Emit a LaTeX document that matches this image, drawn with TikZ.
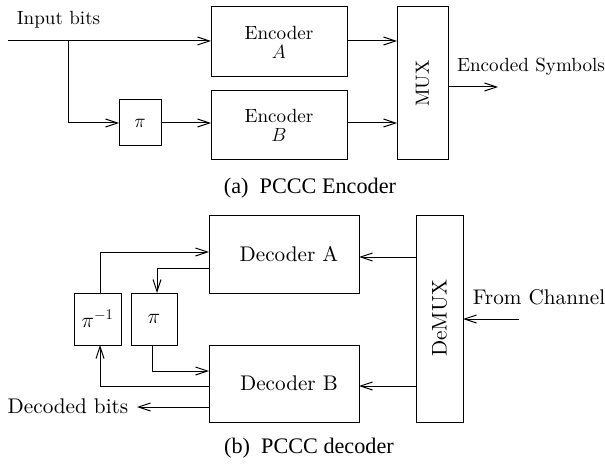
\documentclass[tikz,border=0pt]{standalone}
\usepackage{fix-cm}
\usepackage{fontspec}
\newfontfamily\capfont{Liberation Serif}
\newfontfamily\lmten{lmroman10-regular.otf}
\usetikzlibrary{arrows.meta}
\begin{document}
\begin{tikzpicture}[x=1pt,y=-1pt,
  every node/.style={font=\lmten\fontsize{19.1}{22}\selectfont},
  big/.style={font=\lmten\fontsize{21.2}{24}\selectfont},
  blk/.style={draw,line width=1pt,inner sep=0pt,outer sep=0pt,align=center},
  lbl/.style={inner sep=0pt},
  captext/.style={inner sep=0pt,font=\capfont\fontsize{22.2}{26}\selectfont},
  arr/.style={line width=1pt,-{Straight Barb[length=12pt,width=8pt,line width=1pt]}},
  ln/.style={line width=1pt}]
\useasboundingbox (0,0) rectangle (605,468);
% ---- encoder ----
\node[blk,minimum width=136pt,minimum height=70pt] (encA) at (279,42) {Encoder\\[-3pt]$A$};
\node[blk,minimum width=136pt,minimum height=69pt] (encB) at (279,125.5) {Encoder\\[-3pt]$B$};
\node[blk,minimum width=51pt,minimum height=153pt] (mux) at (422.5,83.5) {\rotatebox{90}{MUX}};
\node[blk,minimum width=42pt,minimum height=46pt] (pi) at (140,123) {$\pi$};
\node[lbl] (inlbl) at (58.5,20) {Input bits};
\node[lbl] (outlbl) at (531,67) {Encoded Symbols};
\coordinate (in) at (8,41);
\coordinate (br) at (68,41);
\coordinate (out) at (498,87);
\draw[arr] (in) -- (in -| encA.west);
\draw[arr] (br) |- (pi.west);
\draw[arr] (pi.east) -- (pi.east -| encB.west);
\draw[arr] (encA.east |- in) -- (mux.west |- in);
\draw[arr] (encB.east |- pi) -- (mux.west |- pi);
\draw[arr] (out -| mux.east) -- (out);
\node[captext] (capa) at (310,188) {(a)\enspace PCCC Encoder};
% ---- decoder ----
\node[blk,big,minimum width=150pt,minimum height=78pt] (decA) at (284,254) {\hspace{10pt}Decoder A};
\node[blk,big,minimum width=150pt,minimum height=77pt] (decB) at (284,383.5) {\hspace{10pt}Decoder B};
\node[blk,big,minimum width=47pt,minimum height=207pt] (demux) at (439.5,318.5) {\rotatebox{90}{DeMUX}};
\node[blk,big,minimum width=47pt,minimum height=52pt] (piinv) at (97.5,319) {$\pi^{-1}$};
\node[blk,big,minimum width=46pt,minimum height=52pt] (pib) at (154,319) {$\pi$};
\node[lbl,big] (chlbl) at (539,297) {From Channel};
\node[lbl,big] (declbl) at (68,406) {Decoded bits};
\coordinate (ch) at (519,319);
\coordinate (a1) at (0,257);
\coordinate (k1) at (100,252);
\coordinate (k2) at (157,268);
\coordinate (k3) at (152,371);
\coordinate (k4) at (100,386);
\coordinate (dout) at (137,407);
\draw[arr] (ch) -- (ch -| demux.east);
\draw[arr] (demux.west |- a1) -- (decA.east |- a1);
\draw[arr] (demux.west |- k4) -- (decB.east |- k4);
\draw[arr] (k1 |- piinv.north) |- (decA.west |- k1);
\draw[arr] (decA.west |- k2) -| (k2 |- pib.north);
\draw[arr] (k3 |- pib.south) |- (decB.west |- k3);
\draw[arr] (decB.west |- k4) -| (k4 |- piinv.south);
\draw[arr] (decB.west |- dout) -- (dout);
\node[captext] (capb) at (309,448) {(b)\enspace PCCC decoder};
\end{tikzpicture}
\end{document}
